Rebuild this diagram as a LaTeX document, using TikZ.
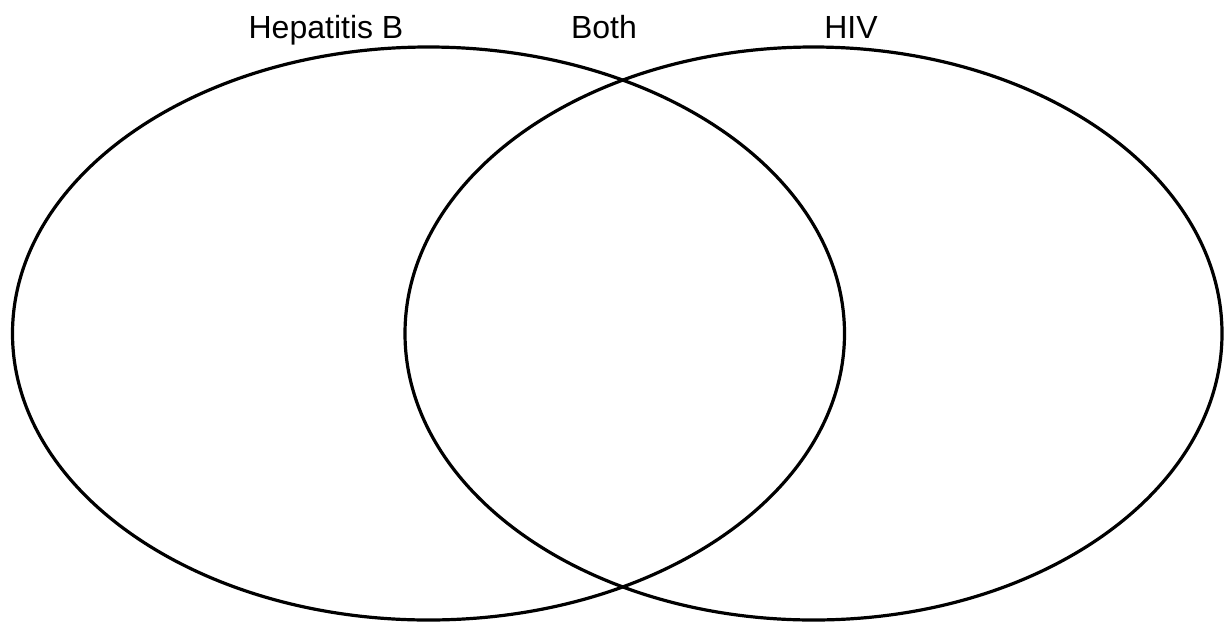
\documentclass[tikz,border=0pt]{standalone}
\usepackage{fontspec}
\setmainfont{Liberation Sans}
\usetikzlibrary{shapes.geometric}
\begin{document}
\begin{tikzpicture}[x=1pt,y=-1pt,
  ring/.style={draw=black,line width=3.2pt,ellipse,inner sep=0pt,outer sep=0pt},
  lbl/.style={font=\fontsize{32}{37}\selectfont,anchor=base,inner sep=0pt}]
\useasboundingbox (0,0) rectangle (1225,622);
\fill[white] (0,0) rectangle (1225,622);
\node[ring,minimum width=832pt,minimum height=573pt] (hepb) at (428.5,333.5) {};
\node[ring,minimum width=817pt,minimum height=573pt] (hiv) at (813.5,333.5) {};
\node[lbl] (t1) at (326,38) {Hepatitis B};
\node[lbl] (t2) at (604,38) {Both};
\node[lbl] (t3) at (851,38) {HIV};
\end{tikzpicture}
\end{document}
